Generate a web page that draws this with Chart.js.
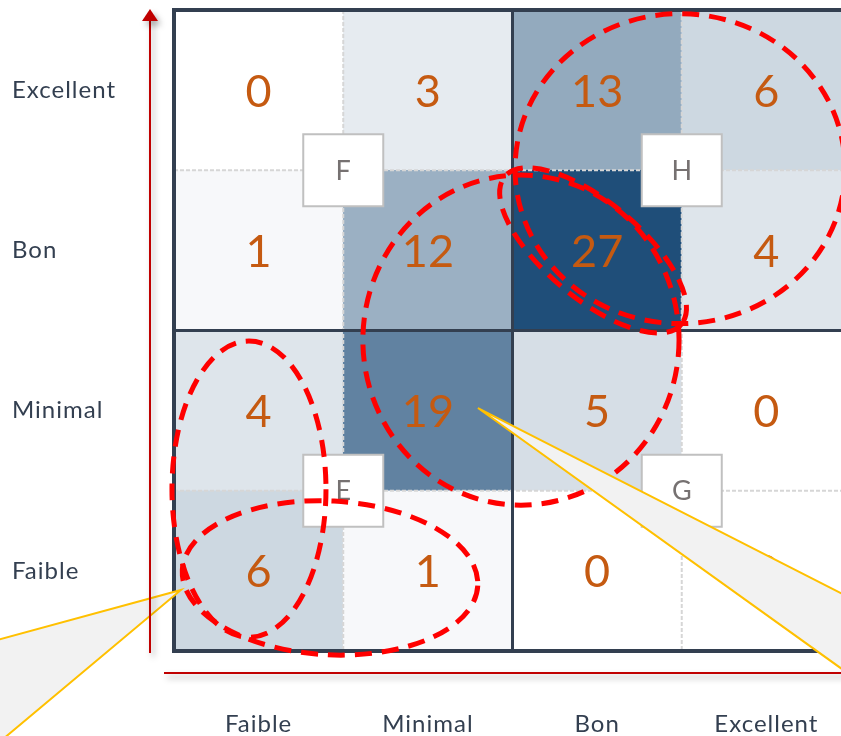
<!DOCTYPE html>
<html>
<head>
<meta charset="utf-8">
<script src="https://cdn.jsdelivr.net/npm/chart.js@4.4.0/dist/chart.umd.min.js"></script>
<style>
  html, body { margin: 0; padding: 0; background: #fff; overflow: hidden; }
  #wrap { width: 870px; height: 736px; }
</style>
</head>
<body>
<div id="wrap"><canvas id="grille"></canvas></div>
<script>
// categories
const colonnes = ['Faible', 'Minimal', 'Bon', 'Excellent'];
const lignes = ['Faible', 'Minimal', 'Bon', 'Excellent']; // de bas en haut

// valeurs par ligne (colonnes Faible -> Excellent)
const ligneFaible = [6, 1, 0, 0];
const ligneMinimal = [4, 19, 5, 0];
const ligneBon = [1, 12, 27, 4];
const ligneExcellent = [0, 3, 13, 6];
const valeurs = [ligneFaible, ligneMinimal, ligneBon, ligneExcellent];
const valeurMax = 27;

// repères des quadrants (coin de cellule: colonne, ligne)
const reperes = [
    { lettre: 'F', u: 1, v: 3 },
    { lettre: 'H', u: 3, v: 3 },
    { lettre: 'E', u: 1, v: 1 },
    { lettre: 'G', u: 3, v: 1 }
];

// ellipses en pointillés (unités de cellule)
const ellipses = [
    { u: 2.99, v: 3.01, ru: 0.975, rv: 0.967, rot: 0 },
    { u: 2.476, v: 2.50, ru: 0.68, rv: 0.30, rot: 40 },
    { u: 2.05, v: 1.94, ru: 0.934, rv: 1.03, rot: 0 },
    { u: 0.443, v: 1.01, ru: 0.455, rv: 0.924, rot: 0 },
    { u: 0.922, v: 0.456, ru: 0.874, rv: 0.48, rot: 3 }
];

// bulles de légende (pointe + deux points de sortie)
const bulles = [
    [[0.041, 0.381], [-1.09, 0.056], [-1.09, -0.62]],
    [[1.796, 1.516], [4.053, 0.300], [4.053, -0.193]]
];

function couleur(v) {
    const t = v / valeurMax;
    const r = Math.round(255 - t * (255 - 31));
    const g = Math.round(255 - t * (255 - 78));
    const b = Math.round(255 - t * (255 - 121));
    return `rgb(${r},${g},${b})`;
}

const datasets = valeurs.map((ligne, r) => ({
    label: lignes[r],
    data: ligne.map(() => [r, r + 1]),
    backgroundColor: ligne.map(couleur),
    borderWidth: 0,
    barPercentage: 1,
    categoryPercentage: 1,
    grouped: false
}));

const espacement = {
    id: 'espacement',
    beforeDraw(chart) {
        chart.ctx.letterSpacing = '1px';
    }
};

const decor = {
    id: 'decor',
    afterDatasetsDraw(chart) {
        const ctx = chart.ctx;
        const xs = chart.scales.x;
        const ys = chart.scales.y;
        const px = u => xs.getPixelForValue(u - 0.5);
        const py = v => ys.getPixelForValue(v);
        const cw = px(1) - px(0);
        const ch = py(0) - py(1);
        const area = chart.chartArea;

        ctx.save();
        ctx.letterSpacing = '0px';
        // traits pointillés clairs
        ctx.strokeStyle = '#d6d6d6';
        ctx.lineWidth = 2;
        ctx.setLineDash([4, 2]);
        [1, 3].forEach(k => {
            ctx.beginPath();
            ctx.moveTo(px(k), area.top); ctx.lineTo(px(k), area.bottom);
            ctx.moveTo(area.left, py(k)); ctx.lineTo(area.right, py(k));
            ctx.stroke();
        });
        // séparations foncées
        ctx.setLineDash([]);
        ctx.strokeStyle = '#333f50';
        ctx.lineWidth = 3;
        ctx.beginPath();
        ctx.moveTo(px(2), area.top); ctx.lineTo(px(2), area.bottom);
        ctx.moveTo(area.left, py(2)); ctx.lineTo(area.right, py(2));
        ctx.stroke();
        ctx.lineWidth = 4;
        ctx.strokeRect(area.left, area.top, area.right - area.left, area.bottom - area.top);

        // valeurs
        ctx.fillStyle = '#c55a11';
        ctx.font = '45px Lato, "Open Sans", sans-serif';
        ctx.textAlign = 'center';
        ctx.textBaseline = 'middle';
        valeurs.forEach((ligne, r) => {
            ligne.forEach((val, c) => {
                ctx.fillText(String(val), px(c + 0.5), py(r + 0.5) + 2);
            });
        });

        // repères
        reperes.forEach(rp => {
            const cx = px(rp.u), cy = py(rp.v);
            ctx.fillStyle = '#ffffff';
            ctx.fillRect(cx - 40, cy - 36, 80, 72);
            ctx.strokeStyle = '#c0c0c0';
            ctx.lineWidth = 2;
            ctx.strokeRect(cx - 40, cy - 36, 80, 72);
            ctx.fillStyle = '#767171';
            ctx.font = '27px Lato, "Open Sans", sans-serif';
            ctx.fillText(rp.lettre, cx, cy + 1);
        });

        // ellipses
        ctx.strokeStyle = '#ff0000';
        ctx.lineWidth = 5;
        ctx.setLineDash([17, 10]);
        ellipses.forEach(e => {
            ctx.beginPath();
            ctx.ellipse(px(e.u), py(e.v), e.ru * cw, e.rv * ch, e.rot * Math.PI / 180, 0, Math.PI * 2);
            ctx.stroke();
        });
        ctx.setLineDash([]);

        // bulles
        bulles.forEach(b => {
            ctx.beginPath();
            ctx.moveTo(px(b[1][0]), py(b[1][1]));
            ctx.lineTo(px(b[0][0]), py(b[0][1]));
            ctx.lineTo(px(b[2][0]), py(b[2][1]));
            ctx.closePath();
            ctx.fillStyle = '#f2f2f2';
            ctx.fill();
            ctx.strokeStyle = '#ffc000';
            ctx.lineWidth = 2;
            ctx.stroke();
        });

        // flèches des axes
        ctx.shadowColor = 'rgba(0,0,0,0.35)';
        ctx.shadowBlur = 6;
        ctx.shadowOffsetX = 3;
        ctx.shadowOffsetY = 4;
        ctx.strokeStyle = '#c00000';
        ctx.fillStyle = '#c00000';
        ctx.lineWidth = 2;
        const ax = area.left - 24;
        ctx.beginPath();
        ctx.moveTo(ax, area.bottom + 2);
        ctx.lineTo(ax, area.top + 8);
        ctx.stroke();
        ctx.beginPath();
        ctx.moveTo(ax, area.top - 1);
        ctx.lineTo(ax - 8, area.top + 11);
        ctx.lineTo(ax + 8, area.top + 11);
        ctx.closePath();
        ctx.fill();
        const ay = area.bottom + 22;
        ctx.beginPath();
        ctx.moveTo(area.left - 10, ay);
        ctx.lineTo(area.right + 10, ay);
        ctx.stroke();
        ctx.restore();
    }
};

new Chart(document.getElementById('grille'), {
    type: 'bar',
    data: { labels: colonnes, datasets: datasets },
    options: {
        responsive: true,
        maintainAspectRatio: false,
        animation: false,
        layout: { padding: { left: 12, top: 10, right: 19, bottom: 0 } },
        plugins: {
            legend: { display: false },
            tooltip: { enabled: false }
        },
        scales: {
            x: {
                grid: { display: false, drawTicks: false },
                border: { display: false },
                ticks: {
                    padding: 59,
                    color: '#333f50',
                    font: { family: 'Lato, "Open Sans", sans-serif', size: 24 }
                },
                afterFit: s => { s.height = 85; s.paddingLeft = 0; s.paddingRight = 0; }
            },
            y: {
                min: 0,
                max: 4,
                grid: { display: false, drawTicks: false },
                border: { display: false },
                afterBuildTicks: s => { s.ticks = [0.5, 1.5, 2.5, 3.5].map(v => ({ value: v })); },
                ticks: {
                    crossAlign: 'far',
                    color: '#333f50',
                    font: { family: 'Lato, "Open Sans", sans-serif', size: 24 },
                    callback: (val, i) => lignes[i]
                },
                afterFit: s => { s.width = 162; s.paddingTop = 0; s.paddingBottom = 0; }
            }
        }
    },
    plugins: [espacement, decor]
});
</script>
</body>
</html>
